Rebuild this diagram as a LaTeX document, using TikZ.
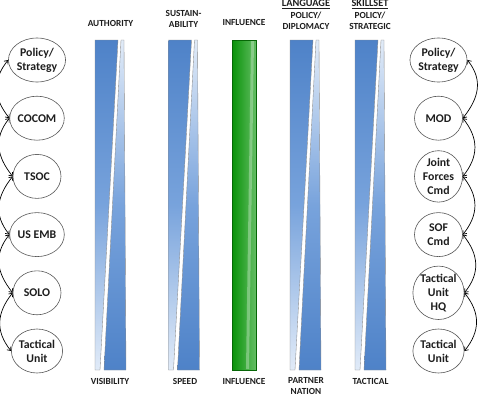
\documentclass[tikz,border=0pt]{standalone}
\usepackage{fontspec}
\setmainfont{Carlito}
\usetikzlibrary{shapes.geometric,arrows.meta}
\definecolor{bdark}{RGB}{78,130,200}
\definecolor{bmid}{RGB}{120,163,220}
\definecolor{blight}{RGB}{225,235,248}
\definecolor{gdark}{RGB}{8,146,8}
\definecolor{glight}{RGB}{100,190,100}
\definecolor{txt}{RGB}{30,30,30}
\newcommand{\wedgebar}[1]{%
  \draw[draw=black!45,line width=0.35pt,top color=bdark,bottom color=blight,middle color=bmid]
    (#1,40) -- (#1+23,40) -- (#1+5,370) -- (#1,370) -- cycle;
  \draw[draw=black!45,line width=0.35pt,top color=blight,bottom color=bdark,middle color=bmid]
    (#1+26,40) -- (#1+29,40) -- (#1+31,370) -- (#1+9,370) -- cycle;
}
\begin{document}
\begin{tikzpicture}[x=1pt,y=-1pt,
  circ/.style={ellipse,draw=black!65,line width=0.6pt,fill=white,
    minimum width=48pt,minimum height=44pt,inner sep=0pt,align=center,
    text=txt,font=\fontsize{11.8}{14}\selectfont\bfseries},
  cyc/.style={line width=0.7pt,
    {Straight Barb[length=3pt,width=5pt]}-{Straight Barb[length=3pt,width=5pt]}},
  lab/.style={font=\fontsize{9.3}{11}\selectfont\bfseries,text=txt,
    align=center,inner sep=0pt},
  head/.style={font=\fontsize{10.3}{12}\selectfont\bfseries,text=txt,
    align=center,inner sep=0pt}]
\useasboundingbox (0,0) rectangle (479,402);
\fill[white] (0,0) rectangle (479,402);

% bars
\wedgebar{95}
\wedgebar{168.5}
\wedgebar{290}
\wedgebar{355}
\draw[draw=gdark!70!black,line width=0.4pt,left color=gdark,right color=glight]
  (232,40) rectangle (256,370);
\fill[white,opacity=0.3] (251,41) -- (254,41) -- (249,369) -- (246,369) -- cycle;

% top labels
\node[lab] (tAuth) at (110.5,23) {AUTHORITY};
\node[lab] (tSust) at (183.5,18.5) {SUSTAIN-\\ABILITY};
\node[lab] (tInf) at (244,22) {INFLUENCE};
\node[head] (tLang) at (306,4.5) {\underline{LANGUAGE}};
\node[lab] (tPol) at (306,21) {POLICY/\\DIPLOMACY};
\node[head] (tSkill) at (370,4.5) {\underline{SKILLSET}};
\node[lab] (tStrat) at (370,21) {POLICY/\\STRATEGIC};

% bottom labels
\node[lab] (bVis) at (110,381) {VISIBILITY};
\node[lab] (bSpeed) at (185,381) {SPEED};
\node[lab] (bInf) at (244,381) {INFLUENCE};
\node[lab] (bPart) at (306,386.5) {PARTNER\\NATION};
\node[lab] (bTac) at (370.5,381) {TACTICAL};

% left column
\node[circ] (l1) at (37,60) {Policy/\\Strategy};
\node[circ] (l2) at (37,118.2) {COCOM};
\node[circ] (l3) at (37,176.4) {TSOC};
\node[circ] (l4) at (37,234.6) {US EMB};
\node[circ] (l5) at (37,292.8) {SOLO};
\node[circ] (l6) at (37,351) {Tactical\\Unit};

% right column
\node[circ] (r1) at (438.5,60) {Policy/\\Strategy};
\node[circ] (r2) at (438.5,118.2) {MOD};
\node[circ] (r3) at (438.5,176.4) {Joint\\Forces\\Cmd};
\node[circ] (r4) at (438.5,234.6) {SOF\\Cmd};
\node[circ] (r5) at (438.5,292.8) {Tactical\\Unit\\HQ};
\node[circ] (r6) at (438.5,351) {Tactical\\Unit};

\foreach \a/\b in {1/2,2/3,3/4,4/5,5/6}{
  \draw[cyc] (l\a.west) .. controls +(-16,20) and +(-16,-20) .. (l\b.west);
  \draw[cyc] (r\a.east) .. controls +(16,20) and +(16,-20) .. (r\b.east);
}
\end{tikzpicture}
\end{document}
